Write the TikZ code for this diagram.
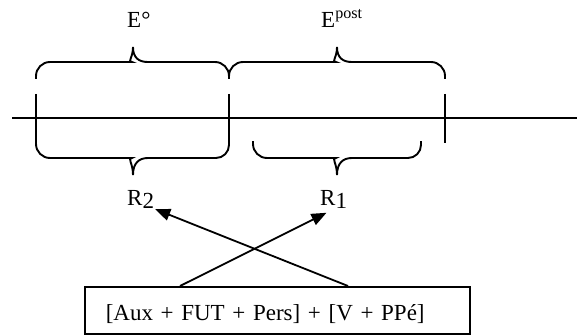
\documentclass[tikz,border=0pt]{standalone}
\usepackage{fontspec}
\setmainfont{Liberation Serif}
\usepackage{tikz}
\usetikzlibrary{arrows.meta,positioning}

\begin{document}
\begin{tikzpicture}[x=1pt,y=-1pt]
    %styles
    \tikzstyle{lbl}=[inner sep=1pt,font=\fontsize{23}{27}\selectfont]
    \tikzstyle{axis}=[line width=1.9pt]
    \tikzstyle{brace}=[line width=1.9pt,rounded corners=14pt]
    \tikzstyle{frame}=[rectangle,draw,line width=1.5pt,align=left,font=\fontsize{23}{27}\selectfont]
    \tikzstyle{commu}=[-{Triangle[length=15pt,width=12pt]},line width=1.8pt]
    \useasboundingbox (0,0) rectangle (577,334);

    %time line and ticks
    \draw[axis] (12,118) -- (577,118);
    \draw[axis] (36,94) -- (36,143);
    \draw[axis] (229,94) -- (229,143);
    \draw[axis] (445,94) -- (445,143);

    %braces
    \draw[brace] (36,79) -- (36,62) -- (118,62) [sharp corners] .. controls (127,62) and (133,58) .. (133,47) .. controls (133,58) and (139,62) .. (148,62) [rounded corners=14pt] -- (229,62) -- (229,79);
    \draw[brace] (229,79) -- (229,62) -- (322,62) [sharp corners] .. controls (331,62) and (337,58) .. (337,47) .. controls (337,58) and (343,62) .. (352,62) [rounded corners=14pt] -- (445,62) -- (445,79);
    \draw[brace] (36,140) -- (36,158) -- (118,158) [sharp corners] .. controls (127,158) and (133,163) .. (133,175) .. controls (133,163) and (139,158) .. (148,158) [rounded corners=13pt] -- (229,158) -- (229,140);
    \draw[brace] (253,141) -- (253,158) -- (322,158) [sharp corners] .. controls (331,158) and (337,163) .. (337,175) .. controls (337,163) and (343,158) .. (352,158) [rounded corners=13pt] -- (421,158) -- (421,141);

    %nodes
    \node[lbl,anchor=base west] (eo) at (126,28) {E°};
    \node[lbl,anchor=base west] (epost) at (320,28) {E\textsuperscript{post}};
    \node[lbl,anchor=base west] (r2) at (126,205) {R\raisebox{-3pt}{2}};
    \node[lbl,anchor=base west] (r1) at (319,205) {R\raisebox{-3pt}{1}};
    \node[frame,anchor=north west,minimum width=385pt,minimum height=47pt,text width=343pt,inner xsep=21pt,text height=24pt,text depth=4pt] (frm) at (84,286) {[Aux + FUT + Pers] + [V + PPé]};
    \coordinate (s1) at (180,286);
    \coordinate (s2) at (348,286);

    %arrows
    \draw[commu,shorten >=8pt] (s1) -- (r1.south);
    \draw[commu] (s2) -- (r2.south east);

\end{tikzpicture}
\end{document}
